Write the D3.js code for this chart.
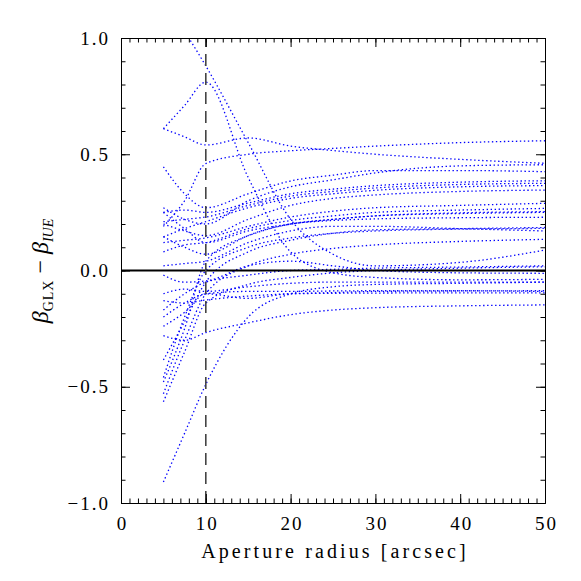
<!DOCTYPE html>
<html>
<head>
<meta charset="utf-8">
<script src="https://cdn.jsdelivr.net/npm/d3@7"></script>
<style>
    body { margin: 0; background: #fff; }
    text { font-family: 'Liberation Serif', serif; fill: #000; }
    .axis path, .axis line { stroke: #000; stroke-width: 1; }
    .axis text { font-size: 19px; letter-spacing: 2px; }
    .curve { fill: none; stroke: #00f; stroke-width: 1.3; stroke-dasharray: 1.4,2.6; }
</style>
</head>
<body>
<svg id="plot" width="581" height="581"></svg>
<script>
(function() {
    'use strict';

    /******************************************************************
        data: aperture radius [arcsec] and beta(GLX) - beta(IUE)
     ******************************************************************/
    var radii = [5, 7.5, 10, 15, 20, 25, 30, 40, 50];

    var offsets = [
        [1.18, 1.03, 0.88, 0.55, 0.22, 0.07, 0.02, 0.035, 0.088],
        [0.61, 0.71, 0.81, 0.40, 0.08, -0.01, -0.03, -0.04, -0.038],
        [0.61, 0.575, 0.54, 0.57, 0.535, 0.516, 0.50, 0.478, 0.461],
        [0.19, 0.30, 0.46, 0.50, 0.515, 0.525, 0.535, 0.55, 0.558],
        [0.446, 0.33, 0.27, 0.33, 0.385, 0.41, 0.43, 0.43, 0.425],
        [0.27, 0.22, 0.20, 0.30, 0.36, 0.39, 0.42, 0.45, 0.455],
        [0.25, 0.26, 0.25, 0.29, 0.33, 0.35, 0.365, 0.38, 0.386],
        [0.21, 0.22, 0.23, 0.28, 0.32, 0.34, 0.355, 0.37, 0.375],
        [0.145, 0.18, 0.21, 0.27, 0.31, 0.33, 0.345, 0.36, 0.365],
        [0.20, 0.17, 0.15, 0.22, 0.28, 0.31, 0.325, 0.34, 0.346],
        [0.12, 0.13, 0.14, 0.19, 0.23, 0.255, 0.27, 0.28, 0.289],
        [0.08, 0.11, 0.12, 0.18, 0.215, 0.235, 0.25, 0.26, 0.267],
        [-0.48, -0.25, 0.04, 0.15, 0.20, 0.22, 0.235, 0.248, 0.253],
        [0.145, 0.10, 0.07, 0.15, 0.20, 0.215, 0.222, 0.227, 0.229],
        [-0.46, -0.20, 0.0, 0.10, 0.14, 0.16, 0.17, 0.178, 0.181],
        [0.02, 0.03, 0.04, 0.12, 0.17, 0.19, 0.19, 0.18, 0.170],
        [-0.53, -0.30, -0.10, 0.02, 0.07, 0.095, 0.11, 0.125, 0.134],
        [-0.565, -0.35, -0.14, -0.06, -0.03, -0.01, 0.0, 0.01, 0.016],
        [-0.02, -0.05, -0.045, 0.02, 0.04, 0.02, 0.0, -0.01, -0.012],
        [-0.10, -0.08, -0.09, -0.07, -0.055, -0.05, -0.05, -0.05, -0.05],
        [-0.13, -0.14, -0.127, -0.11, -0.10, -0.095, -0.09, -0.088, -0.087],
        [-0.24, -0.18, -0.10, -0.12, -0.10, -0.098, -0.097, -0.096, -0.096],
        [-0.91, -0.70, -0.49, -0.20, -0.10, -0.07, -0.06, -0.055, -0.05],
        [-0.28, -0.30, -0.267, -0.225, -0.19, -0.17, -0.16, -0.152, -0.148],
        [-0.385, -0.22, -0.05, 0.08, 0.13, 0.16, 0.175, 0.18, 0.185],
        [-0.17, -0.10, -0.05, -0.02, 0.0, 0.005, 0.01, 0.015, 0.02],
        [-0.20, -0.14, -0.10, -0.09, -0.09, -0.088, -0.087, -0.087, -0.09],
        [0.25, 0.18, 0.12, 0.17, 0.20, 0.22, 0.235, 0.245, 0.25]
    ];

    var cutRadius = 10;

    var xMajor = [0, 10, 20, 30, 40, 50],
        xMinor = d3.range(0, 51, 1),
        yMajor = [-1, -0.5, 0, 0.5, 1],
        yMinor = d3.range(-10, 11).map(function(d) { return d / 10; });

    /******************************************************************
        scales
     ******************************************************************/
    var left = 121, right = 545, top = 38, bottom = 503;

    var x = d3.scaleLinear().domain([0, 50]).range([left, right]),
        y = d3.scaleLinear().domain([-1, 1]).range([bottom, top]);

    var svg = d3.select('#plot');

    svg.append('defs')
        .append('clipPath')
            .attr('id', 'clip')
        .append('rect')
            .attr('x', left)
            .attr('y', top)
            .attr('width', right - left)
            .attr('height', bottom - top);

    /******************************************************************
        curves
     ******************************************************************/
    var line = d3.line()
        .x(function(d) { return x(d[0]); })
        .y(function(d) { return y(d[1]); })
        .curve(d3.curveMonotoneX);

    svg.append('g')
        .attr('clip-path', 'url(#clip)')
        .selectAll('path')
        .data(offsets)
        .enter()
        .append('path')
            .attr('class', 'curve')
            .attr('d', function(v) {
                return line(v.map(function(d, i) { return [radii[i], d]; }));
            });

    // zero line and aperture cut
    svg.append('line')
        .attr('x1', x(0)).attr('x2', x(50))
        .attr('y1', y(0)).attr('y2', y(0))
        .attr('stroke', '#000')
        .attr('stroke-width', 2);

    svg.append('line')
        .attr('x1', x(cutRadius)).attr('x2', x(cutRadius))
        .attr('y1', y(-1)).attr('y2', y(1))
        .attr('stroke', '#444')
        .attr('stroke-width', 1.6)
        .attr('stroke-dasharray', '12,7');

    /******************************************************************
        axes: ticks inside on all four sides
     ******************************************************************/
    function addAxis(axis, tx, ty, labels) {
        var g = svg.append('g')
            .attr('class', 'axis')
            .attr('transform', 'translate(' + [tx, ty] + ')')
            .call(axis);
        g.attr('font-family', null).attr('font-size', null);
        if (!labels)
            g.selectAll('text').remove();
        return g;
    }

    var xg = addAxis(d3.axisBottom(x).tickValues(xMajor).tickSize(-9).tickSizeOuter(0)
        .tickPadding(14).tickFormat(d3.format('d')), 0, bottom, true);
    xg.selectAll('text').attr('dx', '1px');
    addAxis(d3.axisBottom(x).tickValues(xMinor).tickSize(-4.5).tickSizeOuter(0), 0, bottom);
    addAxis(d3.axisTop(x).tickValues(xMajor).tickSize(-9).tickSizeOuter(0), 0, top);
    addAxis(d3.axisTop(x).tickValues(xMinor).tickSize(-4.5).tickSizeOuter(0), 0, top);

    addAxis(d3.axisLeft(y).tickValues(yMajor).tickSize(-9).tickSizeOuter(0)
        .tickPadding(11).tickFormat(d3.format('.1f')), left, 0, true);
    addAxis(d3.axisLeft(y).tickValues(yMinor).tickSize(-4.5).tickSizeOuter(0), left, 0);
    addAxis(d3.axisRight(y).tickValues(yMajor).tickSize(-9).tickSizeOuter(0), right, 0);
    addAxis(d3.axisRight(y).tickValues(yMinor).tickSize(-4.5).tickSizeOuter(0), right, 0);

    /******************************************************************
        axis labels
     ******************************************************************/
    svg.append('text')
        .attr('x', (left + right) / 2 + 2)
        .attr('y', 558)
        .attr('text-anchor', 'middle')
        .style('font-size', '20px')
        .style('letter-spacing', '3.1px')
        .text('Aperture radius [arcsec]');

    var ylab = svg.append('text')
        .attr('transform', 'translate(48,271) rotate(-90)')
        .attr('text-anchor', 'middle')
        .style('font-size', '24px');

    ylab.append('tspan').style('font-style', 'italic').text('\u03b2');
    ylab.append('tspan').attr('dy', 5).style('font-size', '14px')
        .style('letter-spacing', '1px').text('GLX');
    ylab.append('tspan').attr('dy', -5).text(' \u2212 ');
    ylab.append('tspan').style('font-style', 'italic').text('\u03b2');
    ylab.append('tspan').attr('dy', 5).style('font-size', '14px')
        .style('font-style', 'italic').text('IUE');
})();
</script>
</body>
</html>
